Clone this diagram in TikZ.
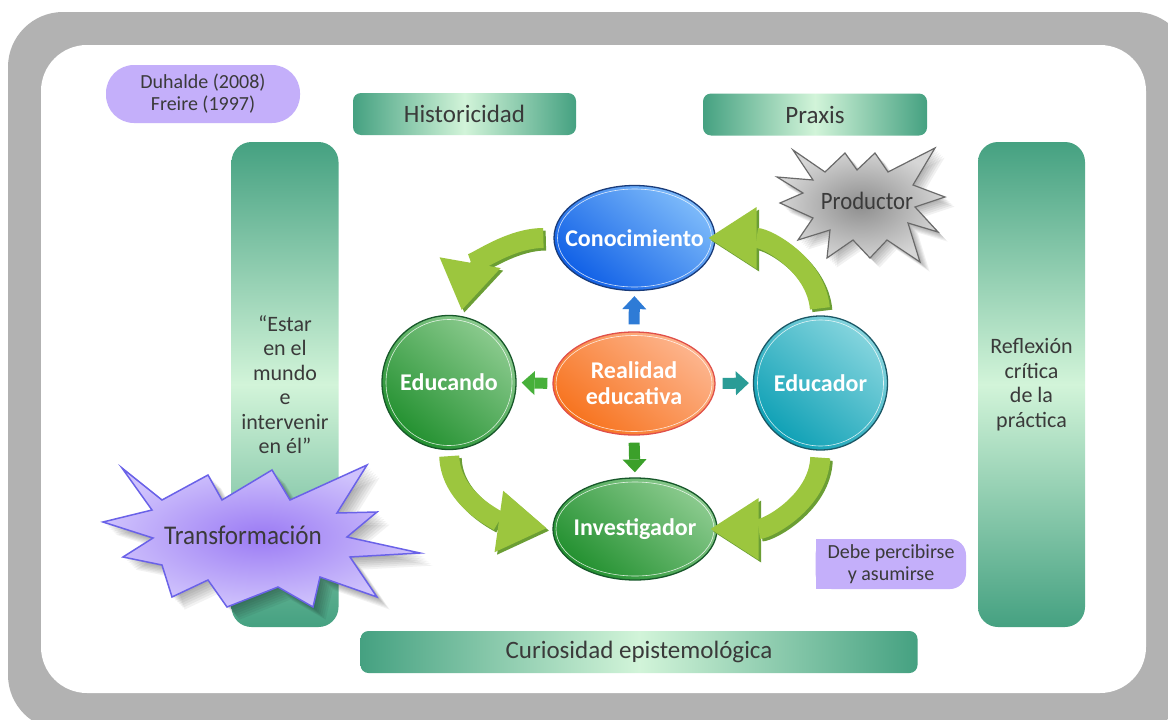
\documentclass[tikz,border=0pt]{standalone}
\usepackage{fontspec}
\setmainfont{Carlito}
\usepackage{graphicx}
\usetikzlibrary{arrows.meta,shapes.geometric}

\definecolor{framegray}{HTML}{B2B2B2}
\definecolor{bardark}{HTML}{45A181}
\definecolor{barlight}{HTML}{D2F4D9}
\definecolor{lav}{HTML}{C4AFFA}
\definecolor{txt}{HTML}{3A3A3A}
\definecolor{arrowgreen}{HTML}{9CC63E}
\definecolor{arrowdark}{HTML}{6B9E34}
\definecolor{conocdark}{HTML}{0F5FE6}
\definecolor{conoclight}{HTML}{7EBBFA}
\definecolor{conocline}{HTML}{1A3C7A}
\definecolor{realdark}{HTML}{F7731E}
\definecolor{reallight}{HTML}{FDB58E}
\definecolor{realline}{HTML}{E0504A}
\definecolor{gdark}{HTML}{22902F}
\definecolor{glight}{HTML}{8CCB8F}
\definecolor{gline}{HTML}{17582A}
\definecolor{tdark}{HTML}{0EA0B5}
\definecolor{tlight}{HTML}{86D5DE}
\definecolor{tline}{HTML}{1B5866}
\definecolor{upblue}{HTML}{2E7BD6}
\definecolor{leftgreen}{HTML}{47B03A}
\definecolor{rightteal}{HTML}{2A9C96}
\definecolor{downgreen}{HTML}{3BA02A}
\definecolor{starin}{HTML}{9B7BF4}
\definecolor{starout}{HTML}{CFC2FC}
\definecolor{starline}{HTML}{6A62E8}
\definecolor{grayin}{HTML}{8E8E8E}
\definecolor{grayout}{HTML}{D6D6D6}
\definecolor{grayline}{HTML}{6A6A6A}

% star outlines
\def\transstar{(122,-468) -- (162,-500) -- (208,-475) -- (222,-500) -- (272,-470) -- (290,-500) -- (367,-465) -- (337,-513) -- (377,-512) -- (347,-537) -- (420,-553) -- (350,-557) -- (377,-597) -- (320,-577) -- (313,-607) -- (278,-587) -- (227,-607) -- (208,-580) -- (172,-597) -- (162,-565) -- (123,-557) -- (153,-538) -- (103,-522) -- (152,-510) -- cycle}
\def\prodstar{(793,-150) -- (825,-172) -- (845,-153) -- (857,-170) -- (875,-153) -- (888,-172) -- (935,-148) -- (913,-185) -- (945,-197) -- (915,-207) -- (938,-232) -- (908,-223) -- (920,-262) -- (887,-240) -- (870,-258) -- (853,-240) -- (827,-258) -- (830,-230) -- (798,-240) -- (813,-218) -- (780,-203) -- (803,-193) -- (777,-177) -- (813,-180) -- cycle}

\begin{document}
\begin{tikzpicture}[x=1pt,y=1pt,
  hbar/.style={rectangle, rounded corners=8pt, left color=bardark, right color=bardark, middle color=barlight,
    text=txt, font=\fontsize{25}{28}\selectfont, inner sep=0pt, minimum height=42pt},
  vbar/.style={rectangle, rounded corners=20pt, top color=bardark, bottom color=bardark, middle color=barlight,
    text=txt, align=center, font=\fontsize{22}{24.5}\selectfont, minimum width=107pt, minimum height=485pt, inner sep=0pt},
  note/.style={text=txt, align=center, font=\fontsize{20}{22}\selectfont, inner sep=0pt},
  bubble/.style={draw, line width=1.3pt, text=white, font=\bfseries\fontsize{24}{26}\selectfont, align=center,
    inner xsep=-40pt, inner ysep=-10pt},
  stub/.style={line width=11pt, -{Triangle[length=13pt, width=24pt, line width=0pt]}},
  cyclearrow/.style={line width=20pt, -{Triangle[length=48pt, width=62pt, line width=0pt]}},
  ring/.style={white, opacity=0.8, line width=0.6pt},
  startext/.style={text=txt, inner sep=0pt}
]
\useasboundingbox (0,0) rectangle (1168,-720);
\fill[white] (0,0) rectangle (1168,-720);

% frame
\fill[framegray, rounded corners=55pt] (8,-12) rectangle (1190,-730);
\fill[white, rounded corners=46pt] (41,-45) rectangle (1146,-693);

% bars
\node[hbar, minimum width=223pt] (hist) at (464.5,-114) {Historicidad};
\node[hbar, minimum width=224pt] (praxis) at (815,-114.5) {Praxis};
\node[hbar, minimum width=557pt] (curio) at (639,-652) {Curiosidad epistemológica};
\node[vbar] (estar) at (285,-384.5) {“Estar\\en el\\mundo\\e\\intervenir\\en él”};
\node[vbar] (reflex) at (1031.5,-384.5) {Reflexión\\crítica\\de la\\práctica};

% notes
\node[note, fill=lav, rounded corners=28pt, minimum width=194pt, minimum height=58pt] (refs) at (203,-94) {Duhalde (2008)\\Freire (1997)};
\fill[lav, rounded corners=16pt] (815.5,-539) rectangle (966,-589);
\fill[lav] (815.5,-539) rectangle (880,-589);
\node[note, minimum width=150pt, minimum height=50pt] (debe) at (891,-564) {Debe percibirse\\y asumirse};

% Productor burst
\foreach \k in {1,...,6} {
  \fill[black, opacity=0.055, xshift=1.6*\k pt, yshift=-1.6*\k pt] \prodstar;
}
\path[inner color=grayin, outer color=grayout] \prodstar;
\draw[grayline, line width=1.2pt, line join=miter] \prodstar;
\node[startext, font=\fontsize{25}{28}\selectfont] (prod) at (867,-201) {\scalebox{0.91}[1]{Productor}};

% central nodes
\node[bubble, ellipse, draw=conocline, top color=conoclight, bottom color=conocdark, shading angle=-40,
  minimum width=161pt, minimum height=105pt] (conoc) at (634.5,-238) {Conocimiento};
\node[bubble, ellipse, draw=realline, top color=reallight, bottom color=realdark, shading angle=-40,
  minimum width=162pt, minimum height=103pt] (real) at (634,-383.5) {Realidad\\educativa};
\node[bubble, circle, draw=gline, top color=glight, bottom color=gdark, shading angle=-40,
  minimum size=134pt] (educando) at (449,-382.5) {Educando};
\node[bubble, circle, draw=tline, top color=tlight, bottom color=tdark, shading angle=-40,
  minimum size=134pt] (educador) at (820.5,-383) {Educador};
\node[bubble, ellipse, draw=gline, top color=glight, bottom color=gdark, shading angle=-40,
  minimum width=164pt, minimum height=102pt] (invest) at (635,-529) {Investigador};

\draw[ring] (conoc.center) ellipse [x radius=77pt, y radius=49pt];
\draw[ring] (real.center) ellipse [x radius=78pt, y radius=48pt];
\draw[ring] (educando.center) circle [radius=63pt];
\draw[ring] (educador.center) circle [radius=63pt];
\draw[ring] (invest.center) ellipse [x radius=79pt, y radius=47pt];

% short arrows out of the centre
\draw[stub, color=upblue, shorten <=7pt, shorten >=5pt] (real.north) -- (conoc.south);
\draw[stub, color=leftgreen, shorten <=5pt, shorten >=5pt] (real.west) -- (educando.east);
\draw[stub, color=rightteal, shorten <=7pt, shorten >=4pt] (real.east) -- (educador.west);
\draw[stub, color=downgreen, shorten <=7pt, shorten >=5pt] (real.south) -- (invest.north);

% curved cycle arrows
\begin{scope}[transform canvas={shift={(2.5pt,-2.5pt)}}]
\draw[cyclearrow, color=arrowdark, shorten <=10pt, shorten >=6pt] (conoc.west) to[out=180,in=80] (educando.80);
\draw[cyclearrow, color=arrowdark, shorten <=7pt, shorten >=-7pt] (educador.north) to[out=95,in=0] (conoc.east);
\draw[cyclearrow, color=arrowdark, shorten <=6pt, shorten >=6pt] (educando.south) to[out=-88,in=172] (invest.west);
\draw[cyclearrow, color=arrowdark, shorten <=7pt, shorten >=-7pt] (educador.south) to[out=-92,in=0] (invest.east);
\end{scope}
\draw[cyclearrow, color=arrowgreen, shorten <=10pt, shorten >=6pt] (conoc.west) to[out=180,in=80] (educando.80);
\draw[cyclearrow, color=arrowgreen, shorten <=7pt, shorten >=-7pt] (educador.north) to[out=95,in=0] (conoc.east);
\draw[cyclearrow, color=arrowgreen, shorten <=6pt, shorten >=6pt] (educando.south) to[out=-88,in=172] (invest.west);
\draw[cyclearrow, color=arrowgreen, shorten <=7pt, shorten >=-7pt] (educador.south) to[out=-92,in=0] (invest.east);

% Transformación burst
\foreach \k in {1,...,7} {
  \fill[black, opacity=0.05, xshift=1.8*\k pt, yshift=-1.8*\k pt] \transstar;
}
\path[inner color=starin, outer color=starout] \transstar;
\draw[starline, line width=1.5pt, line join=miter] \transstar;
\node[startext, font=\fontsize{27}{30}\selectfont] (transf) at (243,-535) {\scalebox{0.93}[1]{Transformación}};
\end{tikzpicture}
\end{document}
